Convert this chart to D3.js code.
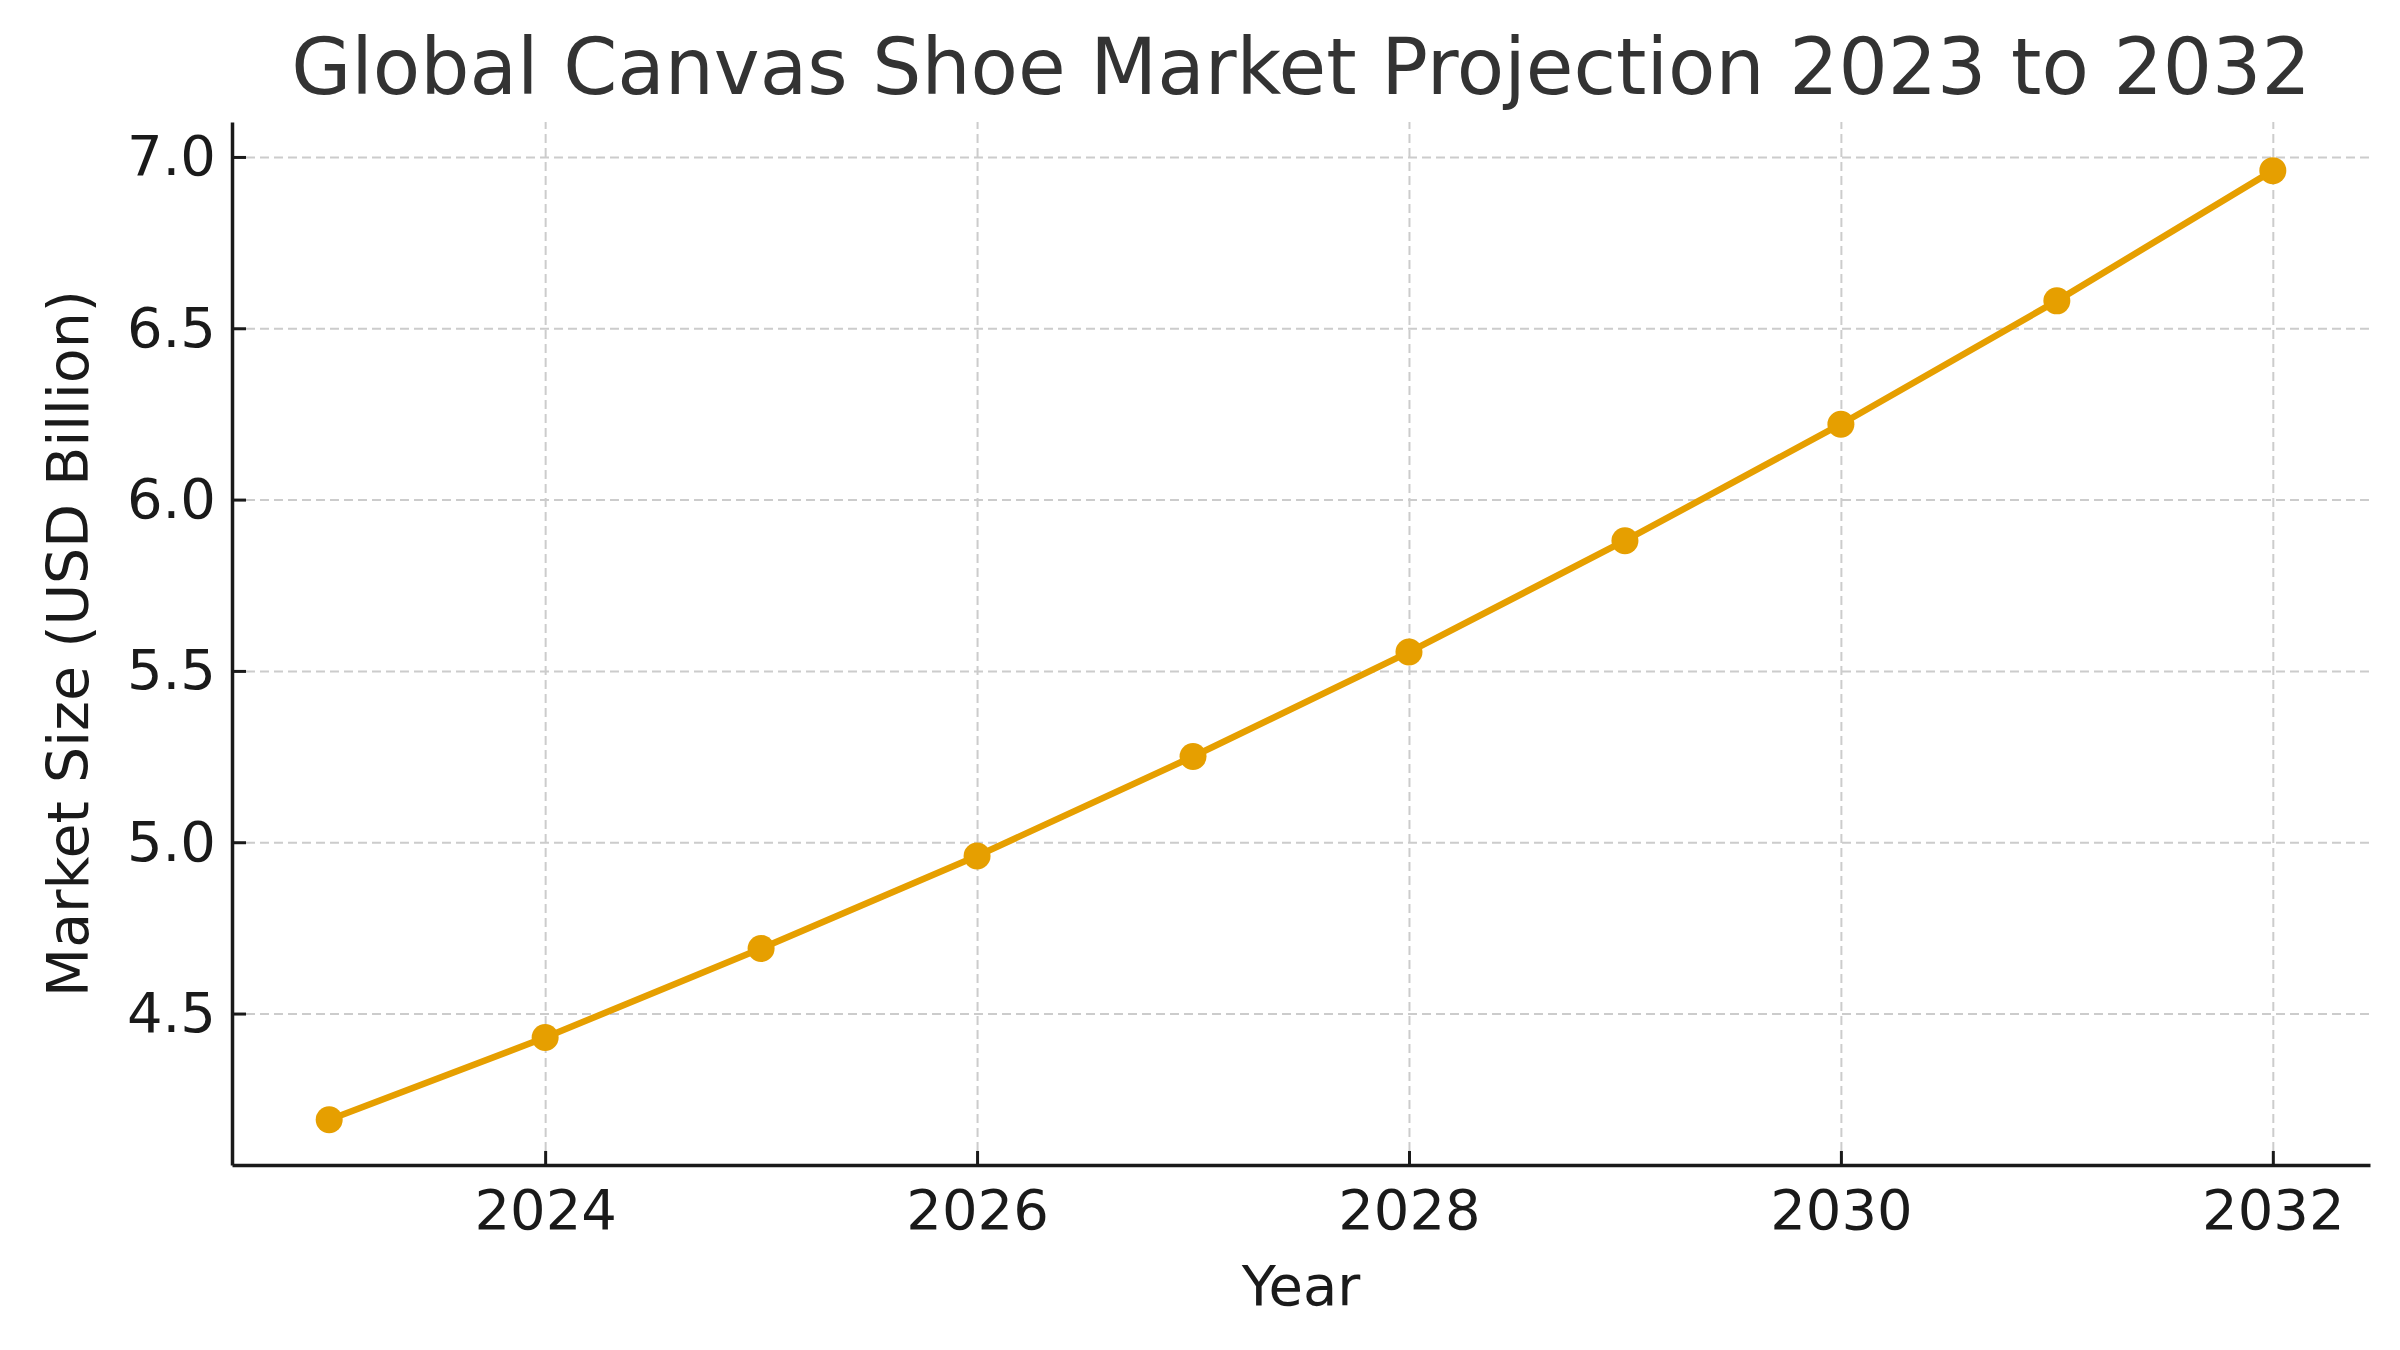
<!DOCTYPE html>
<html>
<head>
<meta charset="utf-8">
<style>
  body { margin: 0; background: #fff; }
  text { font-family: "DejaVu Sans", sans-serif; }
  .grid line { stroke: #cccccc; stroke-width: 2; stroke-dasharray: 9 5; }
  .grid path { display: none; }
  .axis path { stroke: #1a1a1a; stroke-width: 3.5; }
  .axis line { stroke: #1a1a1a; stroke-width: 3; }
  .axis text { fill: #1a1a1a; font-size: 56px; }
</style>
</head>
<body>
<div id="chart"></div>
<script src="https://cdn.jsdelivr.net/npm/d3@7"></script>
<script>
  // data
  const years = [2023, 2024, 2025, 2026, 2027, 2028, 2029, 2030, 2031, 2032];
  const marketSize = [4.19, 4.43, 4.69, 4.96, 5.25, 5.555, 5.88, 6.22, 6.58, 6.96];
  const xTicks = [2024, 2026, 2028, 2030, 2032];
  const yTicks = [4.5, 5.0, 5.5, 6.0, 6.5, 7.0];

  const width = 2400;
  const height = 1350;
  const margin = {top: 122, right: 30, bottom: 185, left: 232};

  const svg = d3.select("#chart")
    .append("svg")
      .attr("width", width)
      .attr("height", height);

  const x = d3.scaleLinear()
    .domain([2022.55, 2032.45])
    .range([margin.left, width - margin.right]);

  const y = d3.scaleLinear()
    .domain([4.058, 7.102])
    .range([height - margin.bottom, margin.top]);

  // grid
  svg.append("g")
    .attr("class", "grid")
    .attr("transform", `translate(0, ${height - margin.bottom})`)
    .call(d3.axisBottom(x).tickValues(xTicks).tickSize(-(height - margin.top - margin.bottom)).tickFormat(""));

  svg.append("g")
    .attr("class", "grid")
    .attr("transform", `translate(${margin.left}, 0)`)
    .call(d3.axisLeft(y).tickValues(yTicks).tickSize(-(width - margin.left - margin.right)).tickFormat(""));

  // axes, ticks pointing inward
  const xAxis = svg.append("g")
    .attr("class", "axis")
    .attr("transform", `translate(0, ${height - margin.bottom})`)
    .call(d3.axisBottom(x).tickValues(xTicks).tickFormat(d3.format("d")).tickSizeInner(-14).tickSizeOuter(0));
  xAxis.selectAll("text").attr("dy", "0.71em").attr("y", 24);

  const yAxis = svg.append("g")
    .attr("class", "axis")
    .attr("transform", `translate(${margin.left}, 0)`)
    .call(d3.axisLeft(y).tickValues(yTicks).tickFormat(d3.format(".1f")).tickSizeInner(-14).tickSizeOuter(0));
  yAxis.selectAll("text").attr("x", -16);

  // line + markers
  const pts = years.map((yr, i) => ({year: yr, value: marketSize[i]}));

  svg.append("path")
    .datum(pts)
    .attr("fill", "none")
    .attr("stroke", "#e69f00")
    .attr("stroke-width", 6.5)
    .attr("d", d3.line().x(d => x(d.year)).y(d => y(d.value)));

  svg.selectAll("circle.pt")
    .data(pts)
    .enter().append("circle")
      .attr("class", "pt")
      .attr("cx", d => x(d.year))
      .attr("cy", d => y(d.value))
      .attr("r", 13.5)
      .attr("fill", "#e69f00");

  // labels
  svg.append("text")
    .attr("x", (margin.left + width - margin.right) / 2)
    .attr("y", 94)
    .attr("text-anchor", "middle")
    .attr("fill", "#333333")
    .style("font-size", "77.5px")
    .text("Global Canvas Shoe Market Projection 2023 to 2032");

  svg.append("text")
    .attr("x", (margin.left + width - margin.right) / 2)
    .attr("y", 1305)
    .attr("text-anchor", "middle")
    .attr("fill", "#1a1a1a")
    .style("font-size", "56px")
    .text("Year");

  svg.append("text")
    .attr("transform", `translate(88, ${(margin.top + height - margin.bottom) / 2}) rotate(-90)`)
    .attr("text-anchor", "middle")
    .attr("fill", "#1a1a1a")
    .style("font-size", "57px")
    .text("Market Size (USD Billion)");
</script>
</body>
</html>
